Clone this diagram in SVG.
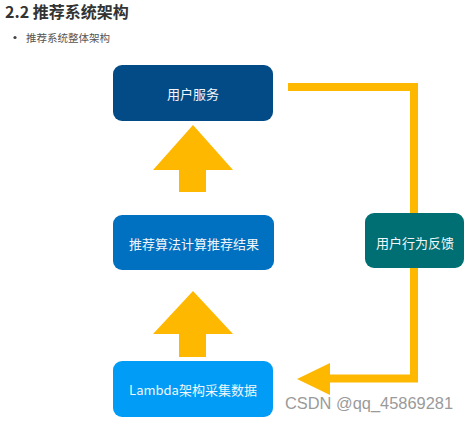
<svg xmlns="http://www.w3.org/2000/svg" width="469" height="422" viewBox="0 0 469 422">
<style>
.node text{font-family:"Noto Sans CJK SC","Liberation Sans",sans-serif;font-size:13px;fill:#f2f6fa;text-anchor:middle;dominant-baseline:central}
.arrow{fill:#FFB800}
.line{fill:none;stroke:#FFB800;stroke-width:8}
</style>
<rect width="469" height="422" fill="#ffffff"/>
<text x="5" y="17.5" font-family="'Noto Sans CJK SC',sans-serif" font-size="16" font-weight="bold" fill="#333333">2.2 推荐系统架构</text>
<circle cx="15" cy="37.5" r="1.6" fill="#444444"/>
<text x="26" y="42" font-family="'Noto Sans CJK SC',sans-serif" font-size="10.5" fill="#555555">推荐系统整体架构</text>
<g id="connectors">
<polygon class="arrow" points="193,125 233,170 206,170 206,192 179,192 179,170 153,170"/>
<polygon class="arrow" points="193,291 233,334 206,334 206,357 179,357 179,334 153,334"/>
<polyline class="line" points="288,87 414,87 414,378.5 326,378.5"/>
<polygon class="arrow" points="297,379 330,363 330,395"/>
</g>
<g id="n1" class="node">
<rect x="113" y="65" width="160" height="56" rx="9" fill="#024B86"/>
<text x="193" y="93">用户服务</text>
</g>
<g id="n2" class="node">
<rect x="113" y="215" width="161" height="55" rx="9" fill="#0070C0"/>
<text x="194" y="243">推荐算法计算推荐结果</text>
</g>
<g id="n3" class="node">
<rect x="113" y="361" width="160" height="56" rx="9" fill="#009CF6"/>
<text x="193" y="389">Lambda架构采集数据</text>
</g>
<g id="n4" class="node">
<rect x="365" y="213" width="99" height="55" rx="9" fill="#006F74"/>
<text x="415" y="242">用户行为反馈</text>
</g>
<text x="285" y="409" font-family="'Liberation Sans',sans-serif" font-size="16" textLength="168" lengthAdjust="spacingAndGlyphs" fill="#9a9a9a">CSDN @qq_45869281</text>
</svg>
